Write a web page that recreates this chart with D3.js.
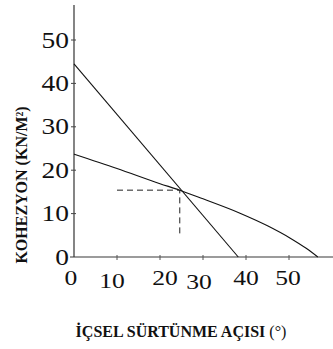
<!DOCTYPE html>
<html>
<head>
<meta charset="utf-8">
<script src="https://cdn.jsdelivr.net/npm/d3@7"></script>
<style>
  body { margin: 0; background: #fff; }
</style>
</head>
<body>
<svg id="chart" width="333" height="349"></svg>
<script>
// data
const xTicks = [0, 10, 20, 30, 40, 50];
const yTicks = [0, 10, 20, 30, 40, 50];
const steepLine = [[0, 44.5], [38.2, 0]];
const curveLine = [[0, 23.7], [10, 20.4], [20, 16.9], [24.6, 15.4], [30, 13.4], [38.6, 10.1], [45, 7.2], [50.2, 4.4], [54, 2.0], [56.7, 0]];
const crossPoint = [24.6, 15.4];
const dashFromX = 10;
const dashToY = 5;

const serif = "'Liberation Serif', 'Times New Roman', Times, 'DejaVu Serif', serif";

const svg = d3.select("#chart").style("font-family", serif);

const x = d3.scaleLinear().domain([0, 60]).range([74, 332]);
const y = d3.scaleLinear().domain([0, 50]).range([257, 40]);

// x axis (grey)
svg.append("line")
    .attr("x1", 70).attr("x2", 333)
    .attr("y1", y(0)).attr("y2", y(0))
    .attr("stroke", "#7a7a7a").attr("stroke-width", 1.6);
svg.selectAll(".xt").data(xTicks.slice(1)).enter().append("line")
    .attr("x1", d => x(d)).attr("x2", d => x(d))
    .attr("y1", y(0) - 2).attr("y2", y(0) + 3)
    .attr("stroke", "#555").attr("stroke-width", 1);

// y axis
svg.append("line")
    .attr("x1", x(0)).attr("x2", x(0))
    .attr("y1", 5).attr("y2", y(0))
    .attr("stroke", "#333").attr("stroke-width", 1.2);
svg.selectAll(".yt").data(yTicks.slice(1)).enter().append("line")
    .attr("x1", x(0) - 3).attr("x2", x(0) + 2)
    .attr("y1", d => y(d)).attr("y2", d => y(d))
    .attr("stroke", "#444").attr("stroke-width", 1);

// tick labels - the original had them a little scattered and stretched wide
const stretch = 1.22;
const nudge = {0: [-3, 0], 10: [-5, 3], 20: [5, 0], 30: [-4, 4], 40: [0, 0], 50: [-1, 0]};
svg.selectAll(".xl").data(xTicks).enter().append("text")
    .attr("transform", d => `translate(${x(d) + nudge[d][0]},${285 + nudge[d][1]}) scale(${stretch},1)`)
    .attr("text-anchor", "middle")
    .attr("font-family", serif)
    .attr("font-size", 21)
    .attr("fill", "#111")
    .text(d => d);

svg.selectAll(".yl").data(yTicks).enter().append("text")
    .attr("transform", d => `translate(${x(0) - 5},${y(d) + 7.5}) scale(${stretch},1)`)
    .attr("text-anchor", "end")
    .attr("font-family", serif)
    .attr("font-size", 22.5)
    .attr("fill", "#111")
    .text(d => d);

// lines
const line = d3.line().x(d => x(d[0])).y(d => y(d[1]));
svg.append("path")
    .attr("d", line(steepLine))
    .attr("fill", "none").attr("stroke", "#111").attr("stroke-width", 1.1);
svg.append("path")
    .attr("d", line.curve(d3.curveMonotoneX)(curveLine))
    .attr("fill", "none").attr("stroke", "#111").attr("stroke-width", 1.1);

// dashed guides to the crossing
svg.append("path")
    .attr("d", d3.line()([[x(dashFromX), y(crossPoint[1])], [x(crossPoint[0]), y(crossPoint[1])], [x(crossPoint[0]), y(dashToY)]]))
    .attr("fill", "none").attr("stroke", "#222").attr("stroke-width", 1)
    .attr("stroke-dasharray", "6,4");

// axis titles
svg.append("text")
    .attr("transform", "translate(27,185) rotate(-90)")
    .attr("text-anchor", "middle")
    .attr("font-family", serif)
    .attr("font-size", 16)
    .attr("font-weight", "bold")
    .attr("fill", "#111")
    .text("KOHEZYON (KN/M²)");

const xt = svg.append("text")
    .attr("x", 181).attr("y", 337)
    .attr("text-anchor", "middle")
    .attr("font-family", serif)
    .attr("font-size", 16)
    .attr("fill", "#111");
xt.append("tspan").attr("font-weight", "bold").text("İÇSEL SÜRTÜNME AÇISI ");
xt.append("tspan").text("(°)");
</script>
</body>
</html>
